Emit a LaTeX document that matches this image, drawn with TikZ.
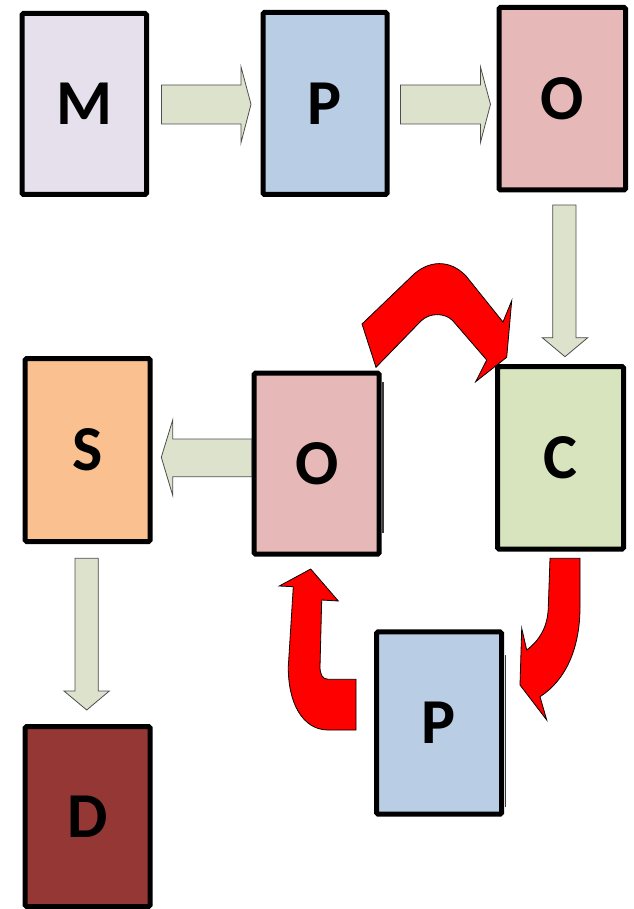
\documentclass[tikz,border=0pt]{standalone}
\usepackage{fontspec}
\setmainfont{Carlito}
\definecolor{cM}{HTML}{E5E0EC}
\definecolor{cP}{HTML}{B9CDE5}
\definecolor{cO}{HTML}{E6B9B8}
\definecolor{cC}{HTML}{D7E4BD}
\definecolor{cS}{HTML}{FAC090}
\definecolor{cD}{HTML}{953735}
\definecolor{arrowgray}{HTML}{DDE2CC}
\definecolor{arrowedge}{HTML}{4D4D4D}
\definecolor{shadowc}{HTML}{3A3A3A}
\begin{document}
\begin{tikzpicture}[x=1pt,y=-1pt,
  box/.style={draw=black,line width=5pt,rounded corners=1.5pt,inner sep=0pt,
    font=\fontsize{64}{70}\selectfont\bfseries},
  garrow/.style={fill=arrowgray,draw=arrowedge,line width=0.8pt,line join=miter},
  rarrow/.style={fill=red,draw=black,line width=0.8pt,line join=miter},
  shadowline/.style={draw=shadowc,line width=1.5pt}]
\useasboundingbox (0,0) rectangle (633,909);

% boxes
\node[box,fill=cM,minimum width=124.5pt,minimum height=181pt] (M) at (84.25,104) {M};
\node[box,fill=cP,minimum width=124pt,minimum height=182pt] (P1) at (325,103.5) {P};
\node[box,fill=cO,minimum width=126.5pt,minimum height=182.5pt] (O1) at (562.25,98.75) {O};
\node[box,fill=cC,minimum width=126pt,minimum height=182.5pt] (C) at (560.5,457.75) {C};
\node[box,fill=cO,minimum width=125pt,minimum height=181.2pt] (O2) at (316.7,463.6) {O};
\node[box,fill=cS,minimum width=125pt,minimum height=183pt] (S) at (87.7,450) {S};
\node[box,fill=cD,minimum width=125pt,minimum height=180pt] (D) at (87.7,816.5) {D};
\node[box,fill=cP,minimum width=125pt,minimum height=182.4pt] (P2) at (439,723) {P};

% thin shadow edges
\draw[shadowline] (383,382) -- (383,533);
\draw[shadowline] (505.7,655) -- (505.7,806.7);

% grey block arrows
\draw[garrow] (161.5,85) -- (241,85) -- (241,66.7) -- (251,104.3) -- (241,142.7) -- (241,124) -- (161.5,124) -- cycle;
\draw[garrow] (400.5,85) -- (480.4,85) -- (480.4,66.7) -- (490.5,104.3) -- (480.4,142.7) -- (480.4,124) -- (400.5,124) -- cycle;
\draw[garrow] (552.7,205) -- (576,205) -- (576,337.7) -- (587.7,337.7) -- (565,356.7) -- (542.3,337.7) -- (552.7,337.7) -- cycle;
\draw[garrow] (251.7,439) -- (172.7,439) -- (172.7,420) -- (161.3,457.3) -- (172.7,495.3) -- (172.7,476.7) -- (251.7,476.7) -- cycle;
\draw[garrow] (75,558.3) -- (98.3,558.3) -- (98.3,691) -- (109.3,691) -- (86.7,710) -- (64,691) -- (75,691) -- cycle;

% red curved arrows
\draw[rarrow] (362,324) -- (412,276) .. controls (428,260) and (450,259) .. (466,276)
  -- (503,322) -- (511.7,300.7) -- (506.7,357.3) -- (475.7,381.7) -- (486.7,360)
  -- (453,321) .. controls (446,313) and (430,312) .. (421,321) -- (376,367.3) -- cycle;
\draw[rarrow] (580,558.3) -- (580,606.7) .. controls (580,648) and (566,680) .. (540,696.7)
  -- (546.7,720) -- (520,685) -- (521.7,628.3) -- (526.7,650)
  .. controls (540,640) and (548,626) .. (548.3,606.7) -- (550,558.3) -- cycle;
\draw[rarrow] (356,679.3) -- (356,730) -- (328.3,730) .. controls (302,730) and (288,702) .. (288.3,666.7)
  -- (293.3,586.7) -- (279.3,586) -- (310.7,569) -- (338.3,601) -- (321.7,600)
  -- (320,666.7) .. controls (320,674) and (322,679.3) .. (328.3,679.3) -- cycle;
\end{tikzpicture}
\end{document}
